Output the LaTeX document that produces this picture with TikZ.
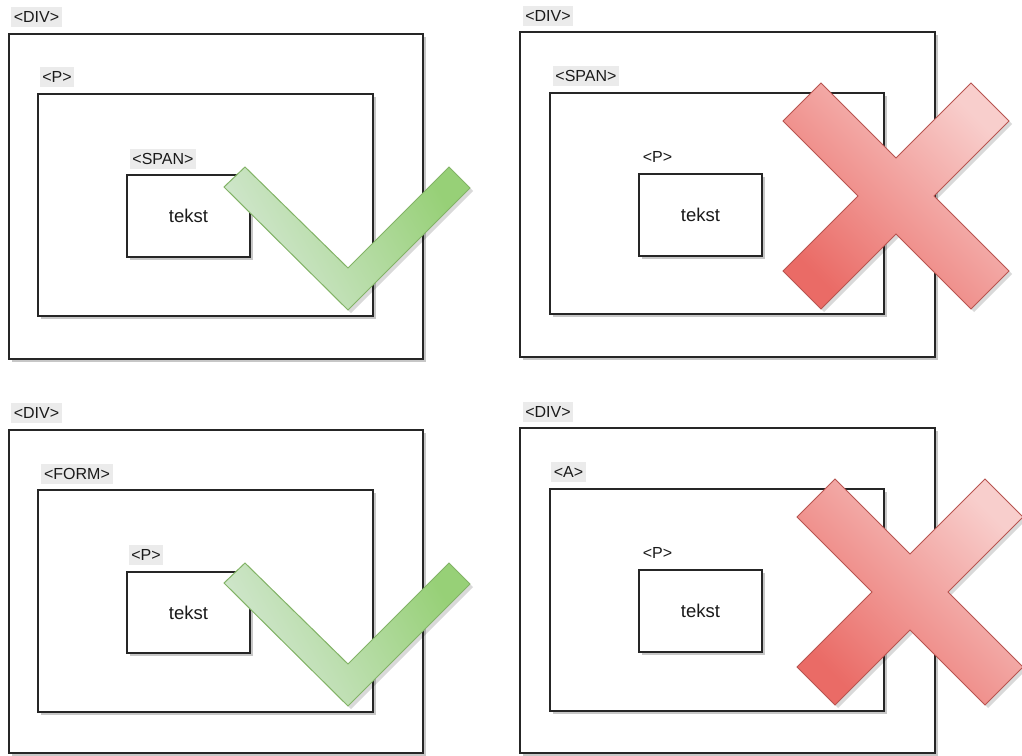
\documentclass[tikz,border=0pt]{standalone}
\usepackage{fontspec}
\setmainfont{Liberation Sans}
\usetikzlibrary{shadows}
\definecolor{labelbg}{HTML}{EBEBEB}
\definecolor{txt}{HTML}{1A1A1A}
\definecolor{chkstroke}{HTML}{82B366}
\definecolor{chklight}{HTML}{D5E8D4}
\definecolor{chkdark}{HTML}{97D077}
\definecolor{xstroke}{HTML}{B85450}
\definecolor{xlight}{HTML}{F8CECC}
\definecolor{xdark}{HTML}{EA6B66}
\begin{document}
\begin{tikzpicture}[x=1pt,y=-1pt,
  boxshadow/.style={drop shadow={shadow xshift=3pt,shadow yshift=-3pt,fill=black,opacity=0.22}},
  htmlbox/.style={draw=black!85, line width=1.3pt, fill=white, inner sep=0pt, outer sep=0pt, boxshadow},
  tag/.style={fill=labelbg, text=txt, font=\fontsize{16}{16}\selectfont, inner xsep=2.8pt, inner ysep=0pt, minimum height=20pt},
  plaintag/.style={text=txt, font=\fontsize{16}{16}\selectfont, inner sep=0pt},
  content/.style={text=txt, font=\fontsize{18.5}{18.5}\selectfont},
  checkshape/.style={draw=chkstroke, line width=1pt, top color=chkdark, bottom color=chklight, shading angle=-60,
    drop shadow={shadow xshift=3pt,shadow yshift=-3pt,fill=black,opacity=0.15}},
  crossshape/.style={draw=xstroke, line width=1pt, top color=xlight, bottom color=xdark, shading angle=-45,
    drop shadow={shadow xshift=3pt,shadow yshift=-3pt,fill=black,opacity=0.15}}
]
\useasboundingbox (0,0) rectangle (1022,755);

% ---------- top left ----------
\node[htmlbox, minimum width=414pt, minimum height=325pt] (tlDiv) at (216,196.5) {};
\node[tag] (tlDivTag) at (36.5,16.5) {<DIV>};
\node[htmlbox, minimum width=335pt, minimum height=222pt] (tlP) at (205.5,205) {};
\node[tag] (tlPTag) at (57,77) {<P>};
\node[htmlbox, content, minimum width=123pt, minimum height=82pt] (tlSpan) at (188.5,216) {tekst};
\node[tag] (tlSpanTag) at (163,158.5) {<SPAN>};
\path[checkshape] (224,187) -- (245,167) -- (348,268) -- (449,167) -- (470,188) -- (348,310) -- cycle;

% ---------- top right ----------
\node[htmlbox, minimum width=415pt, minimum height=325pt] (trDiv) at (727.5,194.5) {};
\node[tag] (trDivTag) at (548,15.5) {<DIV>};
\node[htmlbox, minimum width=334pt, minimum height=221pt] (trSpan) at (717,203.5) {};
\node[tag] (trSpanTag) at (586,76) {<SPAN>};
\node[htmlbox, content, minimum width=123pt, minimum height=82pt] (trP) at (700.5,215) {tekst};
\node[plaintag] (trPTag) at (657.5,157) {<P>};
\path[crossshape, shift={(896,196)}] (75,113) -- (0,38) -- (-75,113) -- (-113,75) -- (-38,0) -- (-113,-75)
  -- (-75,-113) -- (0,-38) -- (75,-113) -- (113,-75) -- (38,0) -- (113,75) -- cycle;

% ---------- bottom left ----------
\node[htmlbox, minimum width=414pt, minimum height=323pt] (blDiv) at (216,591.5) {};
\node[tag] (blDivTag) at (36.5,413) {<DIV>};
\node[htmlbox, minimum width=335pt, minimum height=222pt] (blForm) at (205.5,601) {};
\node[tag] (blFormTag) at (77,473.5) {<FORM>};
\node[htmlbox, content, minimum width=123pt, minimum height=81pt] (blP) at (188.5,612.5) {tekst};
\node[tag] (blPTag) at (146,554.5) {<P>};
\path[checkshape] (224,583) -- (245,563) -- (348,664) -- (449,563) -- (470,584) -- (348,706) -- cycle;

% ---------- bottom right ----------
\node[htmlbox, minimum width=415pt, minimum height=325pt] (brDiv) at (727.5,590.5) {};
\node[tag] (brDivTag) at (548,412) {<DIV>};
\node[htmlbox, minimum width=334pt, minimum height=222pt] (brA) at (717,600) {};
\node[tag] (brATag) at (568.5,472) {<A>};
\node[htmlbox, content, minimum width=123pt, minimum height=82pt] (brP) at (700.5,611) {tekst};
\node[plaintag] (brPTag) at (657.5,553) {<P>};
\path[crossshape, shift={(910,592)}] (75,113) -- (0,38) -- (-75,113) -- (-113,75) -- (-38,0) -- (-113,-75)
  -- (-75,-113) -- (0,-38) -- (75,-113) -- (113,-75) -- (38,0) -- (113,75) -- cycle;
\end{tikzpicture}
\end{document}
